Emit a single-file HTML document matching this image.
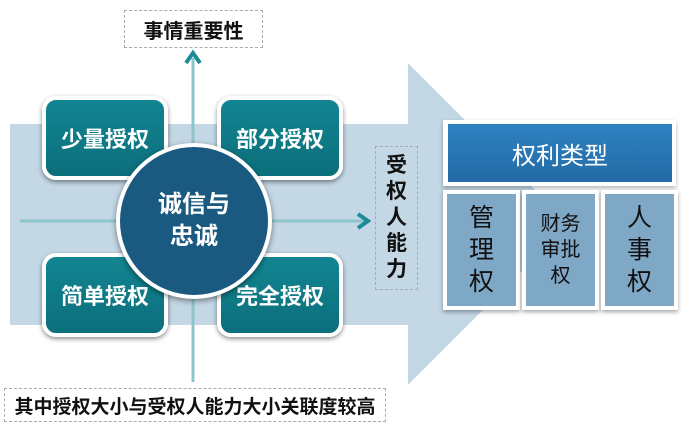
<!DOCTYPE html>
<html><head><meta charset="utf-8"><style>
body{margin:0;width:693px;height:428px;background:#fff;position:relative;overflow:hidden;font-family:"Liberation Sans","Noto Sans CJK SC",sans-serif}
.a{position:absolute}
.q{position:absolute;width:118px;height:76px;background:linear-gradient(#138592,#0b6f7b);border:4px solid #fff;border-radius:14px;box-shadow:0 2px 5px rgba(0,0,0,.45);color:#fff;font-weight:bold;font-size:22px;display:flex;align-items:center;justify-content:center}
.dash{position:absolute;border:1.5px dashed #aaa;font-weight:bold;color:#111;display:flex;align-items:center;justify-content:center}
.sb{position:absolute;background:#7fa7c6;border:4px solid #fff;box-shadow:0 2px 4px rgba(0,0,0,.35);color:#111;display:flex;align-items:center;justify-content:center;text-align:center}
</style></head><body>
<svg class="a" style="left:0;top:0" width="693" height="428">
<polygon points="10,124 408,124 408,63 569,224 408,385 408,325 10,325" fill="#c3d7e5"/>
<line x1="193" y1="58" x2="193" y2="382" stroke="#8ec4cc" stroke-width="3"/>
<polyline points="186,63 193,53 200,63" fill="none" stroke="#1d8b95" stroke-width="4"/>
<line x1="20" y1="221" x2="368" y2="221" stroke="#8ec4cc" stroke-width="3"/>
<polyline points="358,214 368,221 358,228" fill="none" stroke="#1d8b95" stroke-width="4"/>
</svg>
<div class="q" style="left:42px;top:96px">少量授权</div>
<div class="q" style="left:217px;top:96px">部分授权</div>
<div class="q" style="left:42px;top:253px">简单授权</div>
<div class="q" style="left:217px;top:253px">完全授权</div>
<div class="a" style="left:116px;top:143px;width:148px;height:148px;border-radius:50%;background:#1b5a80;border:4px solid #fff;box-shadow:0 2px 6px rgba(0,0,0,.45);color:#fff;font-weight:bold;font-size:24px;line-height:32px;display:flex;align-items:center;justify-content:center;text-align:center">诚信与<br>忠诚</div>
<div class="dash" style="left:124px;top:10px;width:137px;height:36px;font-size:20px">事情重要性</div>
<div class="dash" style="left:4px;top:388px;width:380px;height:32px;font-size:19px">其中授权大小与受权人能力大小关联度较高</div>
<div class="dash" style="left:375px;top:146px;width:41px;height:142px;font-size:21px;line-height:26px;text-align:center">受<br>权<br>人<br>能<br>力</div>
<div class="a" style="left:443px;top:120px;width:233px;height:66px;background:#fff;box-shadow:0 2px 4px rgba(0,0,0,.3)"></div>
<div class="a" style="left:448px;top:124px;width:224px;height:58px;background:linear-gradient(#2f82c1,#236aa6);color:#fff;font-size:24px;display:flex;align-items:center;justify-content:center">权利类型</div>
<div class="sb" style="left:443px;top:190px;width:69px;height:112px;font-size:25px;line-height:32px">管<br>理<br>权</div>
<div class="sb" style="left:522px;top:190px;width:69px;height:112px;font-size:20px;line-height:26px">财务<br>审批<br>权</div>
<div class="sb" style="left:601px;top:190px;width:69px;height:112px;font-size:25px;line-height:32px">人<br>事<br>权</div>
</body></html>
